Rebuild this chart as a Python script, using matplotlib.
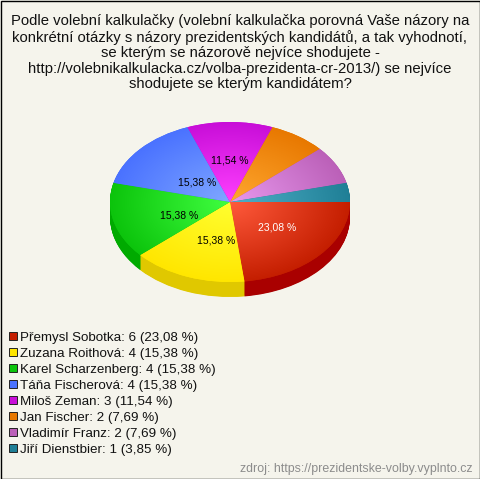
import matplotlib
matplotlib.use('Agg')
import matplotlib.pyplot as plt
from matplotlib.colors import to_rgb
from matplotlib.patches import Rectangle
import numpy as np

names = ['Přemysl Sobotka', 'Zuzana Roithová', 'Karel Scharzenberg', 'Táňa Fischerová',
         'Miloš Zeman', 'Jan Fischer', 'Vladimír Franz', 'Jiří Dienstbier']
votes = [6, 4, 4, 4, 3, 2, 2, 1]
edge_colors = ['#c41e00', '#ffe600', '#0cc40c', '#4a72ff', '#c80ed8', '#e87800', '#bb60b8', '#1f7f96']
center_colors = ['#ff5a3c', '#ffff30', '#40ff40', '#80a8ff', '#ff40ff', '#ffa830', '#e898ee', '#50b0c8']
side_colors = ['#a90000', '#e0c800', '#00aa00', '#3050c0', '#9000a0', '#b05000', '#8a4088', '#105868']
title = ('Podle volební kalkulačky (volební kalkulačka porovná Vaše názory na\n'
         'konkrétní otázky s názory prezidentských kandidátů, a tak vyhodnotí,\n'
         'se kterým se názorově nejvíce shodujete -\n'
         'http://volebnikalkulacka.cz/volba-prezidenta-cr-2013/) se nejvíce\n'
         'shodujete se kterým kandidátem?')
source = 'zdroj: https://prezidentske-volby.vyplnto.cz'

W, H = 480, 479
bg = '#f5f4ec'
plt.rcParams['font.family'] = ['Liberation Sans', 'DejaVu Sans']

fig = plt.figure(figsize=(W / 100, H / 100), dpi=100, facecolor=bg)
ax = fig.add_axes([0, 0, 1, 1])

# pie centre (230,202) px, semi axes 120x80 px, side height 15 px
cx, cy, rx, ry, depth = 230, 202, 120, 80, 15
# nudge of the percent labels in px (x right, y up)
label_shift = [(0, 2), (8, 0), (10, -4), (14, -8), (0, 0), (0, 0), (0, 0), (0, 0)]

# side of the pie: stacked copies going down
for d in np.arange(depth, 0, -0.5):
    ax.pie(votes, colors=side_colors, startangle=0, counterclock=False,
           center=(0, -d / ry), radius=1, frame=True)

total = sum(votes)


def pct_label(p):
    return f'{p:.2f} %'.replace('.', ',') if p >= 10 else ''


wedges, _, autotexts = ax.pie(votes, colors=edge_colors, startangle=0, counterclock=False,
                              radius=1, frame=True, autopct=pct_label, pctdistance=0.52,
                              textprops={'fontsize': 7.5, 'color': 'black'})
autotexts[0].set_color('white')
for t, (dx, dy) in zip(autotexts, label_shift):
    x, y = t.get_position()
    t.set_position((x + dx / rx, y + dy / ry))
    t.set_zorder(10)

# radial shading of each slice, clipped to the wedge
yy, xx = np.mgrid[-1.02:1.02:300j, -1.02:1.02:300j]
rr = np.clip(np.hypot(xx, yy), 0, 1)[..., None]
for w, c0, c1 in zip(wedges, center_colors, edge_colors):
    img = np.array(to_rgb(c0)) * (1 - rr) + np.array(to_rgb(c1)) * rr
    im = ax.imshow(img, extent=(-1.02, 1.02, -1.02, 1.02), origin='lower',
                   aspect='auto', zorder=5, interpolation='bilinear')
    im.set_clip_path(w)

ax.set_xlim(-cx / rx, (W - cx) / rx)
ax.set_ylim((cy - H) / ry, cy / ry)
ax.set_aspect('auto')
ax.axis('off')

fig.text(0.5, 1 - 14.5 / H, title, ha='center', va='top', fontsize=10.7,
         linespacing=1.12, color='#111111')

# legend
for i, (n, v, c) in enumerate(zip(names, votes, edge_colors)):
    y = 336.3 + 16 * i
    fig.add_artist(Rectangle((9 / W, 1 - (y + 4) / H), 8 / W, 8 / H, transform=fig.transFigure,
                             facecolor=c, edgecolor='#222222', linewidth=0.7))
    pct = f'{100 * v / total:.2f}'.replace('.', ',')
    fig.text(20 / W, 1 - y / H, f'{n}: {v} ({pct} %)', ha='left', va='center_baseline',
             fontsize=9.6, color='#111111')

fig.text(472 / W, 1 - 467.5 / H, source, ha='right', va='center_baseline', fontsize=8.95, color='#8c8c8c')

# black frame
fig.add_artist(Rectangle((0.5 / W, 0.5 / H), (W - 1) / W, (H - 1) / H, transform=fig.transFigure,
                         facecolor='none', edgecolor='black', linewidth=1.0))

fig.savefig('out.png', dpi=100, facecolor=bg)
